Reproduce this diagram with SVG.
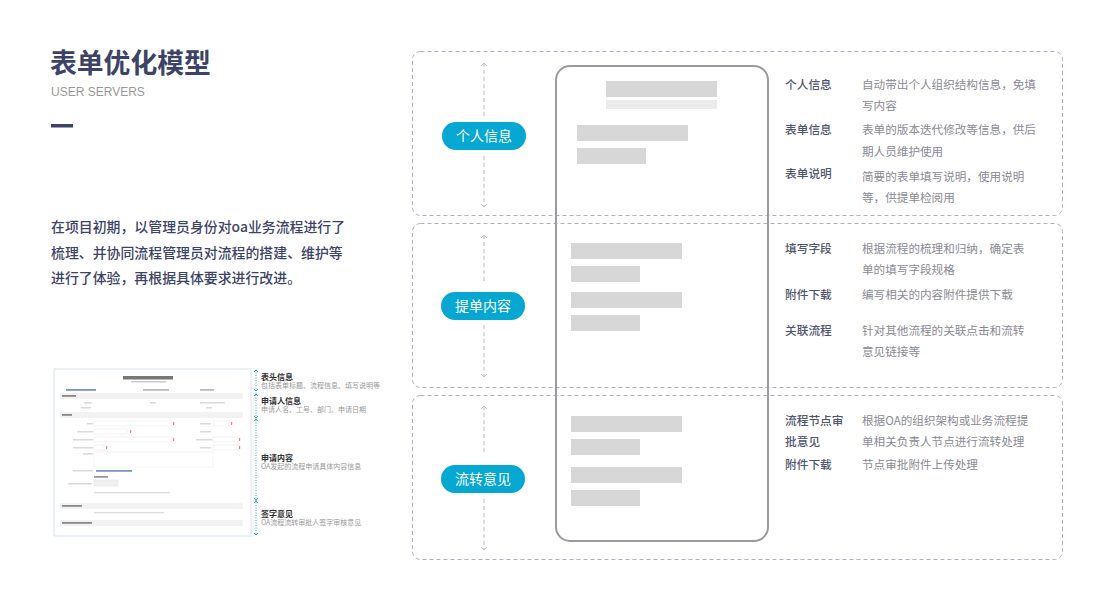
<svg xmlns="http://www.w3.org/2000/svg" width="1114" height="600" viewBox="0 0 1114 600">
<defs>
<style>
.t{font-family:"Noto Sans CJK SC","Noto Sans",sans-serif}
.box{fill:none;stroke:#aeaec4;stroke-width:1;stroke-dasharray:4 3}
.ax{stroke:#bdbdc6;stroke-width:1;stroke-dasharray:4 3;fill:none}
.pill{fill:#06a7d0}
.pt{font-family:"Noto Sans CJK SC",sans-serif;font-size:14px;fill:#fff;text-anchor:middle}
.bar{fill:#d7d7d7}
.lb{font-family:"Noto Sans CJK SC",sans-serif;font-size:11.7px;fill:#50556e;font-weight:500}
.ds{font-family:"Noto Sans CJK SC",sans-serif;font-size:11.6px;fill:#8a8a94}
.fb{fill:#dadada}
.fs{fill:#f2f2f2}
.fi{fill:#fff;stroke:#e8e8e8;stroke-width:0.5}
.sl{font-family:"Noto Sans CJK SC",sans-serif;font-size:8px;fill:#333;font-weight:bold}
.sd{font-family:"Noto Sans CJK SC",sans-serif;font-size:7px;fill:#9a9a9a}
</style>
<marker id="ah" viewBox="0 0 8 8" refX="6" refY="4" markerWidth="8" markerHeight="8" orient="auto-start-reverse" markerUnits="userSpaceOnUse">
<path d="M3,1 L6,4 L3,7" fill="none" stroke="#bdbdc6" stroke-width="1"/>
</marker>
</defs>
<rect width="1114" height="600" fill="#fff"/>

<g id="header">
<text class="t" x="50" y="73" font-size="26.8" font-weight="bold" fill="#3c4366">表单优化模型</text>
<text x="51" y="96" font-family="Liberation Sans,Arial,sans-serif" font-size="12" fill="#999">USER SERVERS</text>
<rect x="51" y="124" width="22" height="3.5" fill="#3c4366"/>
</g>

<g id="intro" class="t" font-size="13.9" fill="#3c4366" font-weight="500">
<text x="51" y="232">在项目初期，以管理员身份对oa业务流程进行了</text>
<text x="51" y="258">梳理、并协同流程管理员对流程的搭建、维护等</text>
<text x="51" y="283">进行了体验，再根据具体要求进行改进。</text>
</g>

<g id="form-thumb">
<rect x="54" y="369" width="197" height="167" fill="#fff" stroke="#d6e2ee" stroke-width="1"/>
<rect x="123" y="376" width="50" height="3.5" fill="#777"/>
<rect x="131" y="381" width="35" height="1.5" fill="#ccc"/>
<rect x="66" y="389" width="30" height="1.8" fill="#7b94c0"/>
<rect x="143" y="389" width="26" height="1.8" fill="#bbb"/>
<rect x="200" y="389" width="14" height="1.8" fill="#bbb"/>
<rect x="60" y="393" width="183" height="6" class="fs"/>
<rect x="62" y="395" width="14" height="1.8" fill="#888"/>
<rect x="84" y="402" width="8" height="1.5" class="fb"/>
<rect x="150" y="402" width="6" height="1.5" class="fb"/>
<rect x="200" y="402" width="25" height="1.5" class="fb"/>
<rect x="81" y="407" width="10" height="1.5" class="fb"/>
<rect x="206" y="407" width="6" height="1.5" class="fb"/>
<rect x="60" y="412" width="183" height="6" class="fs"/>
<rect x="62" y="414" width="10" height="1.8" fill="#888"/>
<rect x="87" y="423" width="6" height="1.5" class="fb"/>
<rect x="94" y="421" width="78" height="5" class="fi"/>
<rect x="173" y="422" width="1.2" height="3" fill="#f08080"/>
<rect x="200" y="423" width="11" height="1.5" class="fb"/>
<rect x="213" y="421" width="17" height="5" class="fi"/>
<rect x="231" y="422" width="1.2" height="3" fill="#f08080"/>
<rect x="77" y="431" width="16" height="1.5" class="fb"/>
<rect x="94" y="429" width="33" height="5" class="fi"/>
<rect x="130" y="430" width="1.2" height="3" fill="#f08080"/>
<rect x="200" y="431" width="11" height="1.5" class="fb"/>
<rect x="73" y="439" width="20" height="1.5" class="fb"/>
<rect x="94" y="437" width="78" height="5" class="fi"/>
<rect x="173" y="438" width="1.2" height="3" fill="#f08080"/>
<rect x="196" y="439" width="16" height="1.5" class="fb"/>
<rect x="213" y="437" width="26" height="5" class="fi"/>
<rect x="239" y="438" width="1.2" height="3" fill="#f08080"/>
<rect x="73" y="447" width="20" height="1.5" class="fb"/>
<rect x="94" y="445" width="10" height="5" class="fi"/>
<rect x="106" y="446" width="1.2" height="3" fill="#f08080"/>
<rect x="200" y="447" width="11" height="1.5" class="fb"/>
<rect x="213" y="445" width="26" height="5" class="fi"/>
<rect x="239" y="446" width="1.2" height="3" fill="#f08080"/>
<rect x="83" y="453" width="10" height="1.5" class="fb"/>
<rect x="94" y="452" width="119" height="15" class="fi"/>
<rect x="73" y="470" width="20" height="1.5" class="fb"/>
<rect x="96" y="470" width="36" height="1.8" fill="#7b94c0"/>
<rect x="94" y="476" width="14" height="1.8" fill="#999"/>
<rect x="68" y="483" width="24" height="1.5" class="fb"/>
<rect x="94" y="480" width="24" height="6" fill="#f0f0f0" stroke="#e0e0e0" stroke-width="0.5"/>
<rect x="94" y="492" width="76" height="1.3" fill="#ddd"/>
<rect x="60" y="503" width="183" height="6" class="fs"/>
<rect x="62" y="505" width="20" height="1.8" fill="#888"/>
<rect x="94" y="512" width="70" height="1.3" fill="#ddd"/>
<rect x="60" y="520" width="183" height="6" class="fs"/>
<rect x="62" y="522" width="30" height="1.8" fill="#888"/>
<line x1="256" y1="370" x2="256" y2="535" stroke="#3d9fe0" stroke-width="1" stroke-dasharray="1 1.5"/>
<g stroke="#3d9fe0" stroke-width="1" fill="none">
<path d="M254,372 L256,370 L258,372"/>
<path d="M254,389 L256,391 L258,389"/>
<path d="M254,396 L256,394 L258,396"/>
<path d="M254,416 L256,418 L258,416"/>
<path d="M254,421 L256,419 L258,421"/>
<path d="M254,498 L256,500 L258,498"/>
<path d="M254,503 L256,501 L258,503"/>
<path d="M254,533 L256,535 L258,533"/>
</g>
<text class="sl" x="261" y="380">表头信息</text>
<text class="sd" x="261" y="388">包括表单标题、流程信息、填写说明等</text>
<text class="sl" x="261" y="404">申请人信息</text>
<text class="sd" x="261" y="412">申请人名、工号、部门、申请日期</text>
<text class="sl" x="261" y="461">申请内容</text>
<text class="sd" x="261" y="469">OA发起的流程申请具体内容信息</text>
<text class="sl" x="261" y="517">签字意见</text>
<text class="sd" x="261" y="525">OA流程流转审批人签字审核意见</text>
</g>

<g id="sections">
<rect class="box" x="412.5" y="51.5" width="650" height="164" rx="8"/>
<rect class="box" x="412.5" y="223.5" width="650" height="164" rx="8"/>
<rect class="box" x="412.5" y="395.5" width="650" height="164" rx="8"/>
</g>

<g id="connectors">
<line class="ax" x1="484" y1="63" x2="484" y2="118" marker-start="url(#ah)"/>
<line class="ax" x1="484" y1="156" x2="484" y2="207" marker-end="url(#ah)"/>
<line class="ax" x1="484" y1="235" x2="484" y2="284" marker-start="url(#ah)"/>
<line class="ax" x1="484" y1="325" x2="484" y2="377" marker-end="url(#ah)"/>
<line class="ax" x1="484" y1="406" x2="484" y2="455" marker-start="url(#ah)"/>
<line class="ax" x1="484" y1="499" x2="484" y2="550" marker-end="url(#ah)"/>
</g>

<g id="pill-personal">
<rect class="pill" x="442" y="122" width="84" height="28" rx="14"/>
<text class="pt" x="484" y="141">个人信息</text>
</g>
<g id="pill-content">
<rect class="pill" x="441" y="292" width="84" height="28" rx="14"/>
<text class="pt" x="483" y="311">提单内容</text>
</g>
<g id="pill-flow">
<rect class="pill" x="441" y="465" width="84" height="28" rx="14"/>
<text class="pt" x="483" y="484">流转意见</text>
</g>

<g id="phone">
<rect x="556" y="66" width="212" height="475" rx="14" fill="none" stroke="#9a9a9a" stroke-width="2"/>
<rect x="606" y="81" width="111" height="16" class="bar"/>
<rect x="606" y="100" width="111" height="9" fill="#ebebeb"/>
<rect x="577" y="125" width="111" height="16" class="bar"/>
<rect x="577" y="148" width="69" height="16" class="bar"/>
<rect x="571" y="243" width="111" height="16" class="bar"/>
<rect x="571" y="266" width="69" height="16" class="bar"/>
<rect x="571" y="292" width="111" height="16" class="bar"/>
<rect x="571" y="315" width="69" height="16" class="bar"/>
<rect x="571" y="416" width="111" height="16" class="bar"/>
<rect x="571" y="439" width="69" height="16" class="bar"/>
<rect x="571" y="467" width="111" height="16" class="bar"/>
<rect x="571" y="490" width="69" height="16" class="bar"/>
</g>

<g id="desc-personal">
<text class="lb" x="785" y="89">个人信息</text>
<text class="ds" x="862" y="89">自动带出个人组织结构信息，免填</text>
<text class="ds" x="862" y="110">写内容</text>
<text class="lb" x="785" y="134">表单信息</text>
<text class="ds" x="862" y="134">表单的版本迭代修改等信息，供后</text>
<text class="ds" x="862" y="156">期人员维护使用</text>
<text class="lb" x="785" y="178">表单说明</text>
<text class="ds" x="862" y="181">简要的表单填写说明，使用说明</text>
<text class="ds" x="862" y="202">等，供提单检阅用</text>
</g>
<g id="desc-content">
<text class="lb" x="785" y="253">填写字段</text>
<text class="ds" x="862" y="253">根据流程的梳理和归纳，确定表</text>
<text class="ds" x="862" y="274">单的填写字段规格</text>
<text class="lb" x="785" y="299">附件下载</text>
<text class="ds" x="862" y="299">编写相关的内容附件提供下载</text>
<text class="lb" x="785" y="335">关联流程</text>
<text class="ds" x="862" y="335">针对其他流程的关联点击和流转</text>
<text class="ds" x="862" y="356">意见链接等</text>
</g>
<g id="desc-flow">
<text class="lb" x="785" y="425">流程节点审</text>
<text class="ds" x="862" y="425">根据OA的组织架构或业务流程提</text>
<text class="lb" x="785" y="446">批意见</text>
<text class="ds" x="862" y="446">单相关负责人节点进行流转处理</text>
<text class="lb" x="785" y="469">附件下载</text>
<text class="ds" x="862" y="469">节点审批附件上传处理</text>
</g>
</svg>
